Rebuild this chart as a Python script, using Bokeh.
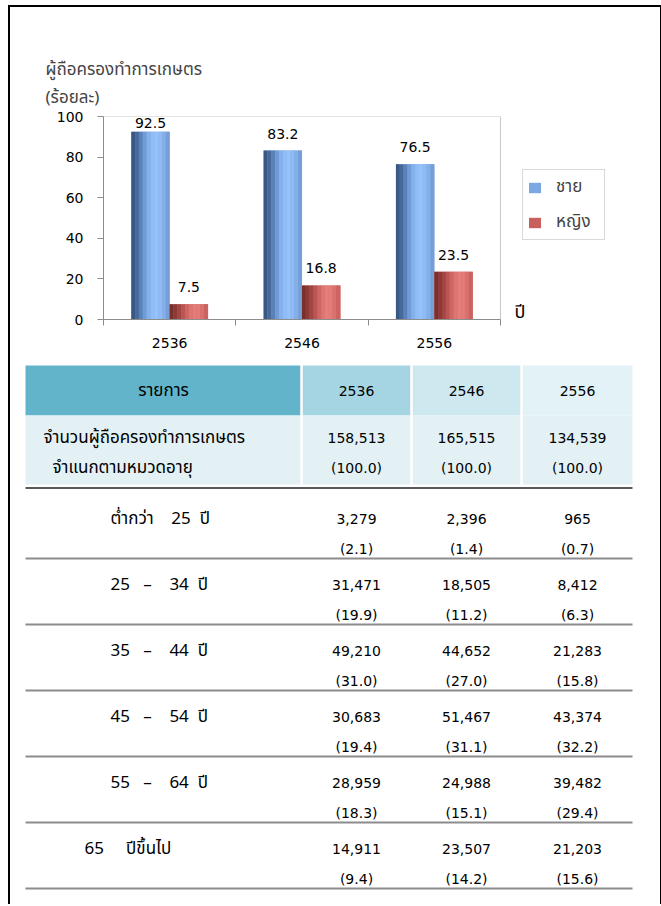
from bokeh.plotting import figure
from bokeh.layouts import column
from bokeh.models import (Range1d, FixedTicker, Legend, LegendItem, Label)
from bokeh.core.properties import value
from bokeh.embed import file_html
from bokeh.resources import INLINE
import numpy as np

# ---------------- data ----------------
years = ["2536", "2546", "2556"]
male_pct = [92.5, 83.2, 76.5]
female_pct = [7.5, 16.8, 23.5]
series_names = ["ชาย", "หญิง"]
y_title_1 = "ผู้ถือครองทำการเกษตร"
y_title_2 = "(ร้อยละ)"
x_title = "ปี"
y_ticks = [0, 20, 40, 60, 80, 100]

table_head = "รายการ"
total_label_1 = "จำนวนผู้ถือครองทำการเกษตร"
total_label_2 = "จำแนกตามหมวดอายุ"
total_count = ["158,513", "165,515", "134,539"]
total_pct = ["(100.0)", "(100.0)", "(100.0)"]
age_groups = ["ต่ำกว่า 25 ปี", "25 – 34 ปี", "35 – 44 ปี", "45 – 54 ปี",
              "55 – 64 ปี", "65 ปีขึ้นไป"]
count_2536 = ["3,279", "31,471", "49,210", "30,683", "28,959", "14,911"]
count_2546 = ["2,396", "18,505", "44,652", "51,467", "24,988", "23,507"]
count_2556 = ["965", "8,412", "21,283", "43,374", "39,482", "21,203"]
pct_2536 = ["(2.1)", "(19.9)", "(31.0)", "(19.4)", "(18.3)", "(9.4)"]
pct_2546 = ["(1.4)", "(11.2)", "(27.0)", "(31.1)", "(15.1)", "(14.2)"]
pct_2556 = ["(0.7)", "(6.3)", "(15.8)", "(32.2)", "(29.4)", "(15.6)"]

# ---------------- styles ----------------
THAI = "Tahoma, 'Noto Sans Thai', 'Noto Sans', sans-serif"
NUM = "Tahoma, 'DejaVu Sans', sans-serif"
blue_grad = ["#3a5885", "#46699a", "#5a82b9", "#6f9bd6", "#84b0ec",
             "#91bdf7", "#95c2fa", "#8fbaf3", "#84afe8", "#769fd8"]
red_grad = ["#7a2f2d", "#8d3936", "#a24643", "#b95552", "#cf6663",
            "#dd7572", "#e47e7b", "#e27c79", "#d9716e", "#cc6360"]
BLUE_SOLID = "#7ba7e2"
RED_SOLID = "#c9605c"
AXIS_GRAY = "#8c8c8c"

# ---------------- chart ----------------
PLOT_W, PLOT_H = 397, 203          # plot-area size in px
FRAME_W = 547                      # frame also hosts legend and "ปี"
n_cat = len(years)
x_end = n_cat * FRAME_W / PLOT_W
p = figure(width=650, height=347, frame_width=FRAME_W, frame_height=PLOT_H,
           min_border_left=93, min_border_right=10, min_border_top=109,
           min_border_bottom=35, x_range=Range1d(0, x_end),
           y_range=Range1d(0, max(y_ticks)),
           output_backend="svg", toolbar_location=None, tools="")
p.outline_line_color = None
p.xgrid.visible = False
p.ygrid.visible = False
p.background_fill_color = "white"
p.border_fill_color = "white"

p.title.text = y_title_1 + "\n" + y_title_2
p.title.align = "left"
p.title.offset = -58
p.title.standoff = 10
p.title.text_font = THAI
p.title.text_font_size = "17px"
p.title.text_font_style = "normal"
p.title.text_line_height = 1.1

# plot-area border (top/right), from the axis bounds
p.quad(left=[0], right=[n_cat], bottom=[0], top=[max(y_ticks)], fill_color=None,
       line_color="#c8c8c8", line_width=1)

centers = np.arange(n_cat) + 0.5
bw = 0.29
nstrip = len(blue_grad)

def draw_bar(vals, offset, grad, solid):
    base = p.vbar(x=centers + offset, top=vals, width=bw, fill_color=solid,
                  line_color=None)
    for i, c in enumerate(grad):
        xs = centers + offset - bw / 2 + (i + 0.5) * bw / nstrip
        p.vbar(x=xs, top=vals, width=bw / nstrip * 1.02, fill_color=c,
               line_color=None)
    return base

rb = draw_bar(male_pct, -bw / 2, blue_grad, BLUE_SOLID)
rr = draw_bar(female_pct, bw / 2, red_grad, RED_SOLID)

def lab_y(vals):
    return [min(v + 8.4, 96.6) for v in vals]

p.text(x=centers - bw / 2, y=lab_y(male_pct), text=[f"{v:.1f}" for v in male_pct],
       text_align="center", text_baseline="middle", text_font=value(NUM),
       text_font_size="14px", text_color="black")
p.text(x=centers + bw / 2, y=lab_y(female_pct), text=[f"{v:.1f}" for v in female_pct],
       text_align="center", text_baseline="middle", text_font=value(NUM),
       text_font_size="14px", text_color="black")

ax = p.xaxis[0]
ax.bounds = (0, n_cat)
ax.ticker = FixedTicker(ticks=list(centers), minor_ticks=list(range(n_cat + 1)))
ax.major_label_overrides = {float(c): y for c, y in zip(centers, years)}
ax.major_tick_line_color = None
ax.major_tick_out = 0
ax.major_tick_in = 0
ax.minor_tick_line_color = AXIS_GRAY
ax.minor_tick_out = 6
ax.minor_tick_in = 0
ax.axis_line_color = AXIS_GRAY
ax.major_label_standoff = 12
ax.major_label_text_font = NUM
ax.major_label_text_font_size = "14px"
ax.major_label_text_color = "black"

ay = p.yaxis[0]
ay.ticker = FixedTicker(ticks=y_ticks)
ay.minor_tick_line_color = None
ay.major_tick_line_color = AXIS_GRAY
ay.major_tick_out = 6
ay.major_tick_in = 0
ay.axis_line_color = AXIS_GRAY
ay.major_label_standoff = 14
ay.major_label_text_font = NUM
ay.major_label_text_font_size = "14px"
ay.major_label_text_color = "black"

px_x = PLOT_W / n_cat
px_y = PLOT_H / max(y_ticks)
p.add_layout(Label(x=(514 - 103) / px_x, y=7 / px_y, text=x_title,
                   text_font=THAI, text_font_size="18px", text_baseline="middle",
                   text_align="left", text_color="black"))

legend = Legend(items=[LegendItem(label=series_names[0], renderers=[rb]),
                       LegendItem(label=series_names[1], renderers=[rr])],
                location=(419, 79), border_line_color="#b4b4b4",
                label_text_font=THAI, label_text_font_size="17px",
                glyph_width=15, glyph_height=13, label_standoff=14,
                label_width=44, spacing=9, padding=4, margin=0, label_height=20)
p.add_layout(legend, "center")

# ---------------- table ----------------
TOP = 354
TH = 550
t = figure(width=650, height=TH, x_range=Range1d(10, 660), y_range=Range1d(TOP + TH, TOP),
           output_backend="svg", toolbar_location=None, tools="",
           min_border=0)
t.axis.visible = False
t.grid.visible = False
t.outline_line_color = None
t.border_fill_color = "white"

col_l = [25, 302, 412, 522]
col_r = [300, 410, 520, 632]
col_c = [163, 356, 466, 577]
head_colors = ["#62b4cb", "#a5d5e2", "#cde8ef", "#e3f2f6"]
t.quad(left=col_l, right=col_r, top=[365] * 4, bottom=[415] * 4,
       fill_color=head_colors, line_color=None)
t.quad(left=col_l, right=col_r, top=[415] * 4, bottom=[484] * 4,
       fill_color="#e3f1f5", line_color=None)
t.segment(x0=[301, 411, 521], x1=[301, 411, 521], y0=[365] * 3, y1=[484] * 3,
          line_color="white", line_width=2)

t.segment(x0=[25], x1=[632], y0=[487.5], y1=[487.5], line_color="#5a5a5a", line_width=2)
n = len(age_groups)
row_top = 487.5
row_h = [70.5] + [66] * (n - 1)
row_lines = list(np.cumsum(row_h) + row_top)
t.segment(x0=[25] * n, x1=[632] * n, y0=row_lines, y1=row_lines,
          line_color="#8c8c8c", line_width=2)

def ttext(xs, ys, texts, font, align="center", size="14px"):
    t.text(x=xs, y=ys, text=texts, text_font=value(font), text_font_size=size,
           text_align=align, text_baseline="middle", text_color="black")

ttext([col_c[0]], [390], [table_head], THAI, size="17px")
ttext(col_c[1:], [390] * 3, years, NUM)
ttext([43], [437], [total_label_1], THAI, align="left", size="17px")
ttext([52], [467], [total_label_2], THAI, align="left", size="17px")
ttext(col_c[1:], [437] * 3, total_count, NUM)
ttext(col_c[1:], [467] * 3, total_pct, NUM)

row_starts = [row_top] + row_lines[:-1]
y1 = [s + (h - 66) + 26 for s, h in zip(row_starts, row_h)]
y2 = [s + (h - 66) + 56 for s, h in zip(row_starts, row_h)]
NB = "\u00a0"
disp = [g.replace(" – ", NB * 3 + "–" + NB * 3 + " ")
         .replace("ต่ำกว่า ", "ต่ำกว่า" + NB * 3 + " ")
         .replace("65 ", "65" + NB * 3 + " ")
         .replace(" ปี", NB * 2 + "ปี") for g in age_groups]
ttext([110] * (n - 1) + [84], y1, disp, THAI, align="left", size="17px")
for ci, (cnt, pc) in enumerate([(count_2536, pct_2536), (count_2546, pct_2546),
                                (count_2556, pct_2556)]):
    ttext([col_c[ci + 1]] * n, y1, cnt, NUM)
    ttext([col_c[ci + 1]] * n, y2, pc, NUM)

page = column(p, column(t), spacing=0,
              styles={"border-top": "2px solid black", "border-left": "2px solid black",
                      "border-right": "1px solid black", "background": "white",
                      "margin-left": "8px", "margin-top": "5px"})
open("out.html", "w").write(file_html(page, INLINE))
